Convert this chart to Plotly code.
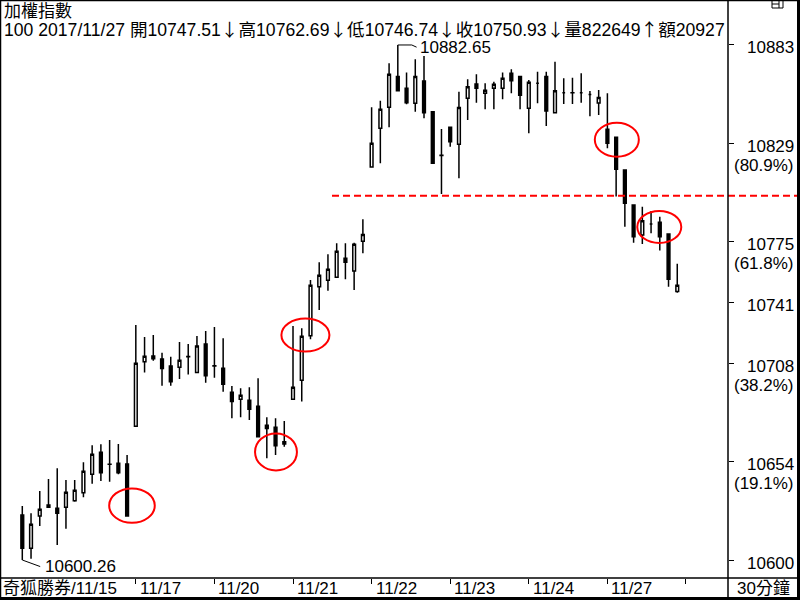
import plotly.graph_objects as go

# ---------------- data (30-minute bars, 加權指數) ----------------
bar_index = list(range(76))
opens = [10624.9, 10606.7, 10624.4, 10629.2, 10628.6, 10629.2, 10632.8, 10637.2, 10647.3, 10659.3,
         10652.8, 10653.3, 10652.9, 10673.6, 10709.0, 10712.1, 10710.5, 10706.6, 10705.9, 10711.8,
         10703.1, 10718.7, 10706.7, 10705.4, 10692.2, 10688.4, 10687.8, 10684.5, 10674.1, 10673.0,
         10665.1, 10688.4, 10698.8, 10723.2, 10750.1, 10753.6, 10755.3, 10765.7, 10758.7, 10775.0,
         10815.7, 10837.0, 10848.5, 10865.3, 10858.9, 10850.7, 10862.9, 10846.1, 10822.2, 10837.5,
         10828.2, 10853.4, 10861.3, 10856.2, 10858.9, 10858.9, 10867.1, 10865.3, 10847.9, 10861.6,
         10865.3, 10845.5, 10856.5, 10856.5, 10856.5, 10855.5, 10850.8, 10836.4, 10832.0, 10814.1,
         10794.9, 10778.5, 10784.5, 10785.4, 10779.0, 10747.51]
highs = [10629.9, 10625.9, 10638.1, 10644.7, 10650.5, 10644.1, 10644.1, 10653.8, 10663.2, 10663.7,
         10666.1, 10663.9, 10657.8, 10729.1, 10722.5, 10723.6, 10713.9, 10711.7, 10719.8, 10718.7,
         10723.1, 10725.8, 10728.0, 10721.8, 10695.7, 10694.4, 10695.0, 10699.9, 10678.5, 10678.0,
         10676.5, 10728.6, 10727.3, 10753.8, 10763.5, 10767.9, 10773.9, 10773.9, 10774.2, 10787.1,
         10848.5, 10852.1, 10872.6, 10882.65, 10867.5, 10874.8, 10876.6, 10846.3, 10836.6, 10837.8,
         10857.0, 10863.8, 10866.6, 10861.6, 10862.5, 10867.5, 10869.3, 10865.6, 10863.4, 10868.0,
         10868.0, 10873.5, 10864.4, 10864.7, 10867.1, 10857.4, 10858.0, 10856.2, 10832.4, 10814.3,
         10795.1, 10794.0, 10791.6, 10788.5, 10779.4, 10762.69]
lows = [10600.26, 10601.0, 10618.9, 10629.0, 10608.5, 10617.4, 10632.2, 10634.6, 10642.1, 10643.6,
        10643.2, 10647.3, 10624.2, 10673.4, 10703.0, 10709.5, 10695.8, 10695.8, 10699.5, 10702.0,
        10702.9, 10697.5, 10700.2, 10692.5, 10678.0, 10678.5, 10677.0, 10667.7, 10656.0, 10657.8,
        10662.4, 10688.2, 10687.1, 10721.3, 10737.3, 10747.9, 10755.1, 10754.2, 10748.3, 10768.4,
        10815.6, 10817.8, 10837.5, 10857.4, 10850.1, 10846.1, 10842.5, 10817.6, 10800.9, 10826.9,
        10809.6, 10841.5, 10851.0, 10847.4, 10847.4, 10852.9, 10856.2, 10847.4, 10834.2, 10850.7,
        10838.2, 10845.3, 10850.3, 10850.3, 10851.0, 10843.6, 10844.3, 10826.0, 10799.5, 10783.0,
        10774.2, 10773.5, 10779.4, 10769.9, 10750.1, 10746.74]
closes = [10606.7, 10619.8, 10628.1, 10630.4, 10625.9, 10637.4, 10638.5, 10648.9, 10658.2, 10648.1,
          10652.7, 10648.1, 10624.4, 10708.1, 10712.0, 10710.6, 10705.2, 10698.0, 10709.8, 10711.7,
          10717.6, 10701.3, 10706.6, 10696.6, 10687.1, 10690.6, 10682.9, 10667.9, 10672.3, 10662.9,
          10663.9, 10695.0, 10722.9, 10750.9, 10756.4, 10759.7, 10769.5, 10763.5, 10773.4, 10778.8,
          10828.7, 10847.4, 10866.6, 10857.6, 10851.0, 10865.3, 10845.5, 10817.8, 10822.1, 10829.6,
          10848.3, 10859.8, 10858.9, 10857.8, 10861.1, 10864.4, 10863.1, 10855.1, 10862.2, 10861.6,
          10846.4, 10857.6, 10856.5, 10856.4, 10856.5, 10855.5, 10853.9, 10828.7, 10814.5, 10795.8,
          10777.5, 10786.3, 10784.5, 10777.5, 10754.2, 10750.93]

x_tick_index = [13, 22, 31, 40, 49, 58, 67, 76]
x_tick_labels = ["11/17", "11/20", "11/21", "11/22", "11/23", "11/24", "11/27", ""]
first_date_label = "奇狐勝券/11/15"

y_tick_values = [10600.26, 10654.2, 10708.1, 10741.5, 10774.8, 10828.7, 10882.65]
y_tick_labels = ["10600", "10654", "10708", "10741", "10775", "10829", "10883"]
y_tick_pcts = ["", "(19.1%)", "(38.2%)", "", "(61.8%)", "(80.9%)", ""]

support_level = 10800
high_bar, high_value = 43, 10882.65
low_bar, low_value = 0, 10600.26

circle_x = [12.56, 29.05, 32.42, 68.08, 72.94]
circle_y = [10630.1, 10659.5, 10723.6, 10830.7, 10782.9]
circle_half_w = [2.61, 2.40, 2.75, 2.52, 2.52]
circle_half_h = [9.43, 10.15, 9.05, 9.32, 8.78]

title_line1 = "加權指數"
title_line2 = "100 2017/11/27 開10747.51↓高10762.69↓低10746.74↓收10750.93↓量822649↑額20927"
period_label = "30分鐘"

# ---------------- layout geometry ----------------
W, H = 800, 600
PLOT_R = 728      # right edge of price area (px)
PLOT_B = 578      # bottom edge of price area (px)
x_range = [-2.553, 80.81]
y_range = [10590.39, 10907.31]

FONT = "Liberation Sans, Noto Sans CJK TC, sans-serif"
FS = 17


def pxx(p):
    return p / W


def pxy(p):
    return (PLOT_B - p) / PLOT_B


def wide_arrows(s):
    # render the arrows with the CJK font so they are full-width as in the original
    for a in ("↓", "↑"):
        s = s.replace(a, f'<span style="font-family:Noto Sans CJK TC">{a}</span>')
    return s


fig = go.Figure()
fig.add_trace(go.Candlestick(
    x=bar_index, open=opens, high=highs, low=lows, close=closes,
    increasing=dict(line=dict(color="black", width=1.5), fillcolor="white"),
    decreasing=dict(line=dict(color="black", width=1.5), fillcolor="black"),
    whiskerwidth=0, hoverinfo="skip", showlegend=False,
))

shapes = []
# red dashed support line (extends into the price panel)
sup_y = (support_level - y_range[0]) / (y_range[1] - y_range[0])
shapes.append(dict(type="line", xref="paper", yref="paper", x0=pxx(332), x1=1.0,
                   y0=sup_y, y1=sup_y, line=dict(color="#ff0000", width=2, dash="7px,4px")))
# red circles
for cx, cy, hw, hh in zip(circle_x, circle_y, circle_half_w, circle_half_h):
    shapes.append(dict(type="circle", xref="x", yref="y", x0=cx - hw, x1=cx + hw,
                       y0=cy - hh, y1=cy + hh, line=dict(color="#ff0000", width=2)))
# leader lines for high / low
shapes.append(dict(type="path", xref="x", yref="y",
                   path=f"M {high_bar},{high_value} L {high_bar + 1.6},{high_value} L {high_bar + 2.15},{high_value - 1.2}",
                   line=dict(color="black", width=1)))
shapes.append(dict(type="path", xref="x", yref="y",
                   path=f"M {low_bar},{low_value} L {low_bar + 2.05},{low_value - 3.6}",
                   line=dict(color="black", width=1)))
# frame and panel dividers
frame = dict(color="black", width=1.5)
shapes += [
    dict(type="line", xref="paper", yref="paper", x0=pxx(PLOT_R), x1=pxx(PLOT_R), y0=pxy(0), y1=pxy(600), line=frame),
    dict(type="line", xref="paper", yref="paper", x0=0, x1=1, y0=pxy(PLOT_B), y1=pxy(PLOT_B), line=frame),
    dict(type="line", xref="paper", yref="paper", x0=pxx(0.5), x1=pxx(0.5), y0=pxy(0), y1=pxy(600), line=frame),
    dict(type="line", xref="paper", yref="paper", x0=0, x1=1, y0=pxy(0.5), y1=pxy(0.5), line=frame),
    dict(type="line", xref="paper", yref="paper", x0=pxx(798.5), x1=pxx(798.5), y0=pxy(0), y1=pxy(600),
         line=dict(color="black", width=3)),
    dict(type="line", xref="paper", yref="paper", x0=0, x1=1, y0=pxy(598.5), y1=pxy(598.5),
         line=dict(color="black", width=3)),
    # small panel icon at top right
    dict(type="rect", xref="paper", yref="paper", x0=pxx(772), x1=pxx(783), y0=pxy(0.5), y1=pxy(8),
         line=dict(color="black", width=1)),
    dict(type="line", xref="paper", yref="paper", x0=pxx(779), x1=pxx(779), y0=pxy(0.5), y1=pxy(8),
         line=dict(color="black", width=1)),
    dict(type="line", xref="paper", yref="paper", x0=pxx(772), x1=pxx(779), y0=pxy(4), y1=pxy(4),
         line=dict(color="black", width=1)),
]

ann = []
font = dict(family=FONT, size=FS, color="black")
ann.append(dict(text=title_line1, xref="paper", yref="paper", x=pxx(2), y=pxy(12),
                xanchor="left", yanchor="middle", showarrow=False, font=font))
ann.append(dict(text=wide_arrows(title_line2), xref="paper", yref="paper", x=pxx(2), y=pxy(29),
                xanchor="left", yanchor="middle", showarrow=False,
                font=dict(family=FONT, size=17.6, color="black")))
# price-axis labels
for v, lab, pct in zip(y_tick_values, y_tick_labels, y_tick_pcts):
    ann.append(dict(text=lab, xref="paper", yref="y", x=pxx(796), y=v, yshift=-3,
                    xanchor="right", yanchor="middle", showarrow=False, font=font))
    if pct:
        ann.append(dict(text=pct, xref="paper", yref="y", x=pxx(796), y=v, yshift=-22,
                        xanchor="right", yanchor="middle", showarrow=False, font=font))
# date labels
for xi, lab in zip(x_tick_index, x_tick_labels):
    if lab:
        ann.append(dict(text=lab, xref="x", yref="paper", x=xi, xshift=2, y=pxy(588.5),
                        xanchor="left", yanchor="middle", showarrow=False, font=font))
ann.append(dict(text=first_date_label, xref="paper", yref="paper", x=pxx(1), y=pxy(588.5),
                xanchor="left", yanchor="middle", showarrow=False, font=font))
ann.append(dict(text=period_label, xref="paper", yref="paper", x=pxx(763), y=pxy(588.5),
                xanchor="center", yanchor="middle", showarrow=False, font=font))
# high / low labels
ann.append(dict(text=f"{high_value:.2f}", xref="x", yref="y", x=high_bar + 2.3, y=high_value, yshift=-3,
                xanchor="left", yanchor="middle", showarrow=False, font=font))
ann.append(dict(text=f"{low_value:.2f}", xref="x", yref="y", x=low_bar + 2.35, y=low_value - 3.6,
                xanchor="left", yanchor="middle", showarrow=False, font=font))

fig.update_layout(
    width=W, height=H, margin=dict(l=0, r=0, t=0, b=H - PLOT_B, pad=0),
    paper_bgcolor="white", plot_bgcolor="white", showlegend=False,
    boxgap=0.55, shapes=shapes, annotations=ann,
    xaxis=dict(domain=[0, PLOT_R / W], range=x_range, showgrid=False, zeroline=False,
               rangeslider=dict(visible=False), tickmode="array", tickvals=x_tick_index,
               ticks="outside", ticklen=5, tickwidth=1, tickcolor="black",
               showticklabels=False, showline=False, fixedrange=True),
    yaxis=dict(range=y_range, side="right", showgrid=False, zeroline=False,
               tickmode="array", tickvals=y_tick_values, ticks="outside", ticklen=5,
               tickwidth=1, tickcolor="black", showticklabels=False, showline=False,
               fixedrange=True),
)

fig.write_html("out.html")
